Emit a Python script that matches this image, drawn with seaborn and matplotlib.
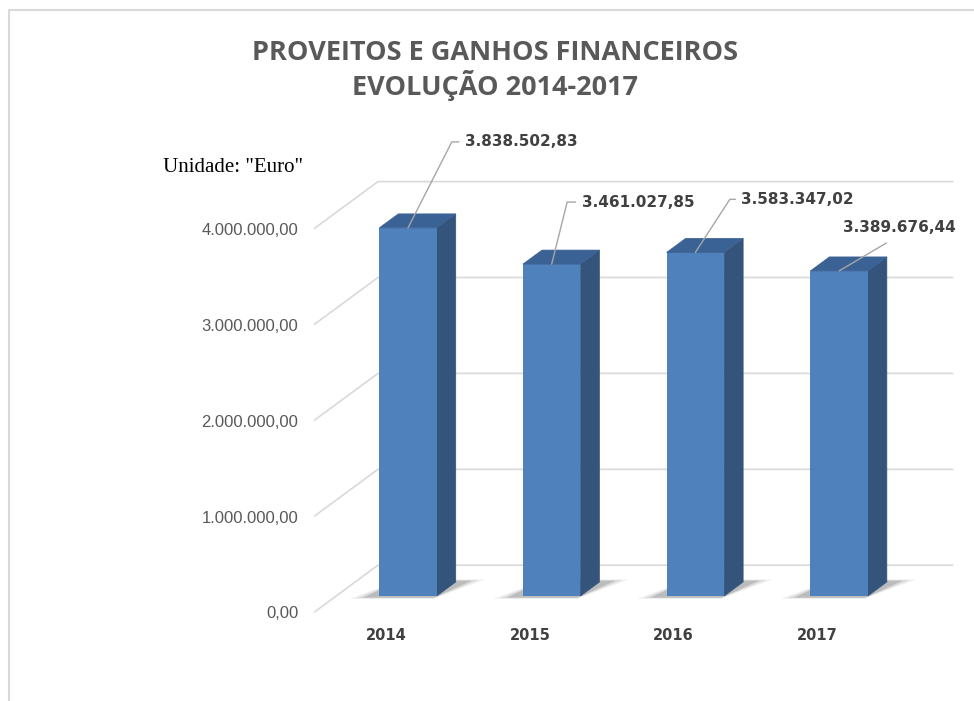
import matplotlib
matplotlib.use("Agg")
import numpy as np
import matplotlib.pyplot as plt
import seaborn as sns
from matplotlib.patches import Polygon
from matplotlib.lines import Line2D

# dados
anos = ["2014", "2015", "2016", "2017"]
valores = [3838502.83, 3461027.85, 3583347.02, 3389676.44]
ticks_y = [0, 1000000, 2000000, 3000000, 4000000]

titulo_1 = "PROVEITOS E GANHOS FINANCEIROS"
titulo_2 = "EVOLUÇÃO 2014-2017"
unidade = 'Unidade: "Euro"'

# estilo dos rótulos (deslocamento em px e ângulo da linha de chamada)
rot_offsets = [(57, 86), (30, 62), (46, 53), (60, 43)]
rot_angulos = [63, 76, 57, None]

COR_FRENTE = "#4F81BD"
COR_LADO = "#34547C"
COR_TOPO = "#3B6294"
COR_GRID = "#D9D9D9"
DX, DY = 19, 14          # projeção da profundidade (px por unidade)
D_FRENTE, D_FUNDO = -1.14, 2.2


def fmt_pt(v):
    s = f"{v:,.2f}"
    return s.replace(",", "X").replace(".", ",").replace("X", ".")


sns.set_style("white")
plt.rcParams['font.family'] = ['Open Sans', 'DejaVu Sans']

fig = plt.figure(figsize=(9.74, 7.01), dpi=100)
W, H = 974, 701
ax = fig.add_axes([336.15 / W, 105 / H, 574.8 / W, 383.6 / H])
ax.patch.set_visible(False)

sns.barplot(x=anos, y=valores, color=COR_FRENTE, saturation=1, width=0.4,
            ax=ax, zorder=2, linewidth=0, edgecolor=COR_FRENTE)
ax.set_xlim(-0.5, 3.5)
ax.set_ylim(0, 4000000)
ax.axis('off')


def proj(x, v, d):
    px, py = ax.transData.transform((x, v))
    px += d * DX * fig.dpi / 100
    py += d * DY * fig.dpi / 100
    return fig.transFigure.inverted().transform((px, py))


# grelha em perspectiva (chão + parede do fundo)
for v in ticks_y:
    pts = np.array([proj(-0.5, v, D_FRENTE), proj(-0.5, v, D_FUNDO), proj(3.5, v, D_FUNDO)])
    ax.add_line(Line2D(pts[:, 0], pts[:, 1], color=COR_GRID, lw=1.2,
                       transform=fig.transFigure, clip_on=False, zorder=0.5))
    fx, fy = proj(-0.5, v, D_FRENTE)
    fig.text(fx - 16 / W, fy - 2 / H, fmt_pt(v), ha='right', va='center',
             fontsize=12, color='#595959', family='Liberation Sans')

# faces laterais, topo e sombra de cada barra
for i, bar in enumerate(ax.patches):
    x0 = bar.get_x()
    x1 = x0 + bar.get_width()
    v = bar.get_height()
    for k, a in enumerate([0.07, 0.10, 0.18]):
        g = 0.04 * (2 - k)
        sombra = [proj(x0 - 0.1 - g, 0, -0.12 - g), proj(x1, 0, -0.12 - g),
                  proj(x1 + 0.1 + g, 0, 1.1 + g), proj(x0, 0, 1.1 + g)]
        ax.add_patch(Polygon(sombra, closed=True, color='#303030', alpha=a, lw=0,
                             transform=fig.transFigure, clip_on=False, zorder=0.8))
    lado = [proj(x1, 0, 0), proj(x1, v, 0), proj(x1, v, 1), proj(x1, 0, 1)]
    topo = [proj(x0, v, 0), proj(x1, v, 0), proj(x1, v, 1), proj(x0, v, 1)]
    ax.add_patch(Polygon(lado, closed=True, facecolor=COR_LADO, edgecolor=COR_LADO, lw=0.5,
                         transform=fig.transFigure, clip_on=False, zorder=1.5))
    ax.add_patch(Polygon(topo, closed=True, facecolor=COR_TOPO, edgecolor=COR_TOPO, lw=0.5,
                         transform=fig.transFigure, clip_on=False, zorder=2.5))

    # etiquetas dos anos
    tx, ty = proj(i, 0, D_FRENTE)
    fig.text(tx, ty - 24 / H, anos[i], ha='center', va='center', fontsize=10.5,
             fontweight='bold', color='#404040', family='DejaVu Sans')

# rótulos de valor com linha de chamada
for i, v in enumerate(valores):
    dx, dy = rot_offsets[i]
    ang = rot_angulos[i]
    if ang is not None:
        props = dict(arrowstyle='-', color='#A6A6A6', lw=1, relpos=(0, 0.5),
                     connectionstyle=f'angle,angleA=180,angleB={ang},rad=0',
                     shrinkA=2, shrinkB=0)
        ha = 'left'
    else:
        props = dict(arrowstyle='-', color='#A6A6A6', lw=1, relpos=(0.5, 0),
                     shrinkA=6, shrinkB=0)
        ha = 'center'
    ax.annotate(fmt_pt(v), xy=(i, v), xytext=(dx, dy), textcoords='offset pixels',
                ha=ha, va='center', fontsize=11, fontweight='bold', color='#404040',
                family='DejaVu Sans', arrowprops=props, annotation_clip=False, zorder=4)

# títulos
fig.text(495 / W, 1 - 60 / H, titulo_1, ha='center', va='baseline', fontsize=19.5,
         fontweight='bold', color='#595959')
fig.text(495 / W, 1 - 95 / H, titulo_2, ha='center', va='baseline', fontsize=19.5,
         fontweight='bold', color='#595959')
fig.text(163 / W, 1 - 172 / H, unidade, ha='left', va='baseline', fontsize=15,
         family='Liberation Serif', color='black')

# moldura (esquerda e topo)
fig.add_artist(Line2D([9 / W, 9 / W, 1], [0, 1 - 10 / H, 1 - 10 / H],
                      color=COR_GRID, lw=1.5, transform=fig.transFigure))

fig.savefig("out.png", dpi=100)
